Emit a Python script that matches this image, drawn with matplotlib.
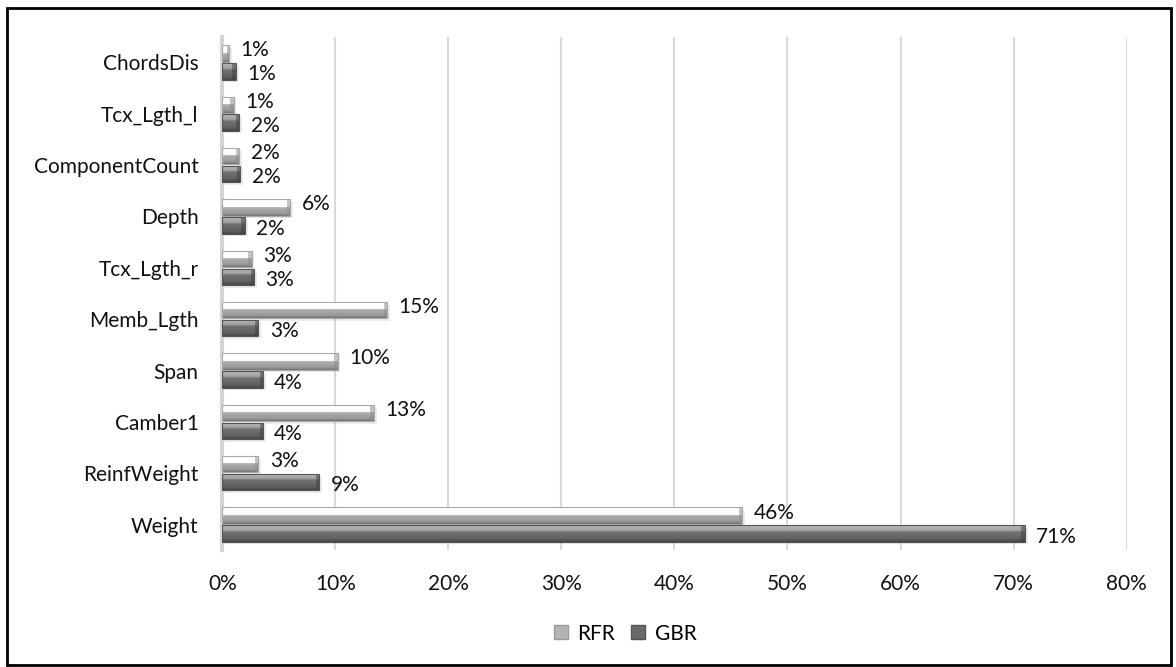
import numpy as np
import matplotlib.pyplot as plt
from matplotlib.patches import Rectangle
from matplotlib.lines import Line2D

# feature importances (percent), bottom to top
features = ["Weight", "ReinfWeight", "Camber1", "Span", "Memb_Lgth",
            "Tcx_Lgth_r", "Depth", "ComponentCount", "Tcx_Lgth_l", "ChordsDis"]
rfr = [46.0, 3.2, 13.4, 10.2, 14.6, 2.6, 6.0, 1.5, 1.0, 0.6]
gbr = [71.0, 8.6, 3.6, 3.6, 3.2, 2.8, 2.0, 1.6, 1.5, 1.2]
xticks = [0, 10, 20, 30, 40, 50, 60, 70, 80]

plt.rcParams['font.family'] = ['Lato', 'DejaVu Sans']
FS = 15

fig = plt.figure(figsize=(11.76, 6.67), dpi=100)
ax = fig.add_axes([0.189, 0.175, 0.769, 0.77])

y = np.arange(len(features))
h = 0.32
off = 0.175

def shade(stops):
    # vertical bevel gradient, top row first
    pos = np.linspace(0, 1, 60)
    xs = [s[0] for s in stops]
    vals = np.interp(pos, xs, [s[1] for s in stops])
    return np.repeat(vals[:, None], 2, axis=1)

rfr_grad = shade([(0, 0.85), (0.08, 1.0), (0.45, 0.98), (0.52, 0.68), (0.85, 0.60), (1, 0.45)])
gbr_grad = shade([(0, 0.72), (0.3, 0.64), (0.42, 0.44), (0.8, 0.38), (1, 0.28)])

def bevel_bars(vals, ypos, grad, edge, outline):
    bars = ax.barh(ypos, vals, height=h, color='none', zorder=3)
    for b in bars:
        x0, y0 = b.get_x(), b.get_y()
        w, bh = b.get_width(), b.get_height()
        # soft shadow under each bar
        ax.add_patch(Rectangle((x0, y0 - 0.05), w + 0.25, bh, color='#000000',
                               alpha=0.08, lw=0, zorder=2))
        im = ax.imshow(grad, cmap='gray', vmin=0, vmax=1, aspect='auto',
                       extent=(x0, x0 + w, y0, y0 + bh), origin='upper',
                       interpolation='nearest', zorder=3)
        im.set_clip_path(b)
        # darker end cap
        cap = min(0.3, w * 0.3)
        ax.add_patch(Rectangle((x0 + w - cap, y0), cap, bh, color=edge,
                               alpha=0.5, lw=0, zorder=4))
        ax.add_patch(Rectangle((x0, y0), w, bh, fill=False, ec=outline,
                               lw=0.8, zorder=4))
    return bars

bevel_bars(rfr, y + off, rfr_grad, '#8a8a8a', '#a8a8a8')
bevel_bars(gbr, y - off, gbr_grad, '#3f3f3f', '#555555')

for i in range(len(features)):
    ax.text(rfr[i] + 1.0, y[i] + off + 0.06, f"{round(rfr[i])}%", fontsize=FS,
            va='center', ha='left', color='#111111', zorder=5)
    ax.text(gbr[i] + 1.0, y[i] - off - 0.06, f"{round(gbr[i])}%", fontsize=FS,
            va='center', ha='left', color='#111111', zorder=5)

ax.set_xlim(0, 80)
ax.set_ylim(-0.5, len(features) - 0.5)
ax.set_xticks(xticks)
ax.set_xticklabels([f"{t}%" for t in xticks])
ax.set_yticks(y)
ax.set_yticklabels(features)
ax.tick_params(length=0, labelsize=FS, colors='#111111')
ax.tick_params(axis='y', pad=17)
ax.tick_params(axis='x', pad=17)
ax.grid(axis='x', color='#d9d9d9', lw=1.5, zorder=0)
ax.set_axisbelow(True)
for s in ['top', 'right', 'bottom']:
    ax.spines[s].set_visible(False)
ax.spines['left'].set_color('#d4d4d4')
ax.spines['left'].set_linewidth(3)

handles = [Line2D([], [], marker='s', ls='none', ms=10, mfc='#b4b4b4', mec='#9a9a9a'),
           Line2D([], [], marker='s', ls='none', ms=10, mfc='#6a6a6a', mec='#555555')]
fig.legend(handles, ["RFR", "GBR"], loc='center', bbox_to_anchor=(0.53, 0.05),
           ncol=2, frameon=False, fontsize=FS, handletextpad=0.3,
           columnspacing=0.6, handlelength=1.0)

# outer frame
fig.patches.append(Rectangle((0.006, 0.003), 0.99, 0.985, transform=fig.transFigure,
                             fill=False, ec='black', lw=2))

fig.savefig("out.png", dpi=100)
